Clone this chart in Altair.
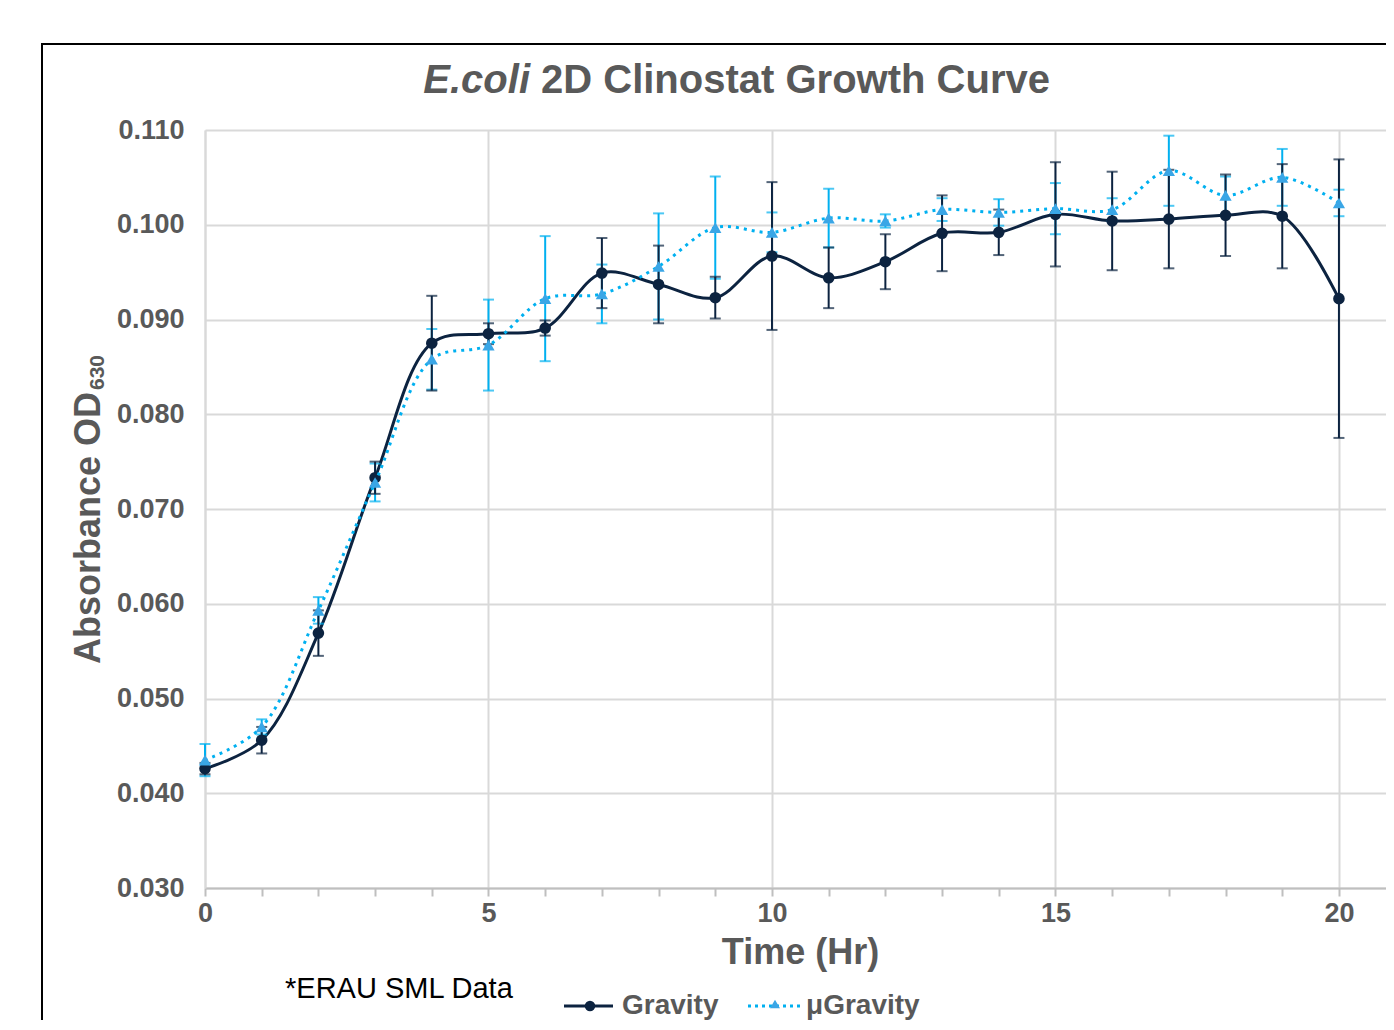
import altair as alt
import pandas as pd

hours = list(range(21))
gravity = [0.0426, 0.0456, 0.0569, 0.0733, 0.0875, 0.0885, 0.0891, 0.0949, 0.0937, 0.0923,
           0.0967, 0.0944, 0.0961, 0.0991, 0.0992, 0.1011, 0.1004, 0.1006, 0.1010, 0.1009, 0.0922]
gravity_err = [0.0006, 0.0014, 0.0024, 0.0017, 0.0050, 0.0011, 0.0008, 0.0037, 0.0041, 0.0022,
               0.0078, 0.0032, 0.0029, 0.0040, 0.0024, 0.0055, 0.0052, 0.0052, 0.0043, 0.0055, 0.0147]
micro = [0.0435, 0.0470, 0.0593, 0.0728, 0.0858, 0.0873, 0.0922, 0.0927, 0.0956, 0.0997,
         0.0992, 0.1007, 0.1004, 0.1016, 0.1013, 0.1017, 0.1016, 0.1057, 0.1031, 0.1050, 0.1023]
micro_err = [0.0017, 0.0008, 0.0014, 0.0020, 0.0032, 0.0048, 0.0066, 0.0031, 0.0056, 0.0054,
             0.0021, 0.0031, 0.0007, 0.0012, 0.0014, 0.0027, 0.0012, 0.0037, 0.0020, 0.0030, 0.0014]
x_ticks = list(range(21))
y_ticks = [0.030, 0.040, 0.050, 0.060, 0.070, 0.080, 0.090, 0.100, 0.110]

NAVY = "#0c2340"
BLUE = "#00b0f0"
TRI = "#3aa6e6"
GRAY = "#595959"
FONT = "Liberation Sans"

rows = []
for t, v, e in zip(hours, gravity, gravity_err):
    rows.append({"t": t, "v": v, "lo": v - e, "hi": v + e, "s": "Gravity"})
for t, v, e in zip(hours, micro, micro_err):
    rows.append({"t": t, "v": v, "lo": v - e, "hi": v + e, "s": "uGravity"})
df = pd.DataFrame(rows)
one = pd.DataFrame({"a": [0]})

xscale = alt.Scale(domain=[0, 20.83], nice=False, zero=False)
yscale = alt.Scale(domain=[0.030, 0.110], nice=False, zero=False)

X = alt.X("t:Q", scale=xscale, axis=alt.Axis(
    values=x_ticks, format="d",
    labelExpr="datum.value % 5 === 0 ? datum.label : ''",
    gridOpacity={"condition": {"test": "datum.value % 5 === 0", "value": 1}, "value": 0},
    title="Time (Hr)", titleFontSize=36, titleFontWeight="bold", titleColor=GRAY,
    titleFont=FONT, titlePadding=9, titleX=595,
    labelFontSize=27, labelFontWeight="bold", labelColor=GRAY, labelFont=FONT,
    labelPadding=4, tickSize=8, tickColor="#bfbfbf", tickWidth=2,
    domainColor="#bfbfbf", domainWidth=2, gridColor="#d9d9d9", gridWidth=2,
    labelFlush=False, labelOverlap=False,
))
Y = alt.Y("v:Q", scale=yscale, axis=alt.Axis(
    values=y_ticks, format=".3f", title=None,
    labelFontSize=27, labelFontWeight="bold", labelColor=GRAY, labelFont=FONT,
    labelPadding=21, ticks=False, domainColor="#d9d9d9", domainWidth=2,
    gridColor="#d9d9d9", gridWidth=2,
))

base = alt.Chart(df)
g = base.transform_filter("datum.s === 'Gravity'")
u = base.transform_filter("datum.s === 'uGravity'")

def errbars(src, color):
    bar = src.mark_rule(color=color, strokeWidth=2).encode(x="t:Q", y="lo:Q", y2="hi:Q")
    cap_lo = src.mark_tick(color=color, orient="horizontal", size=11, thickness=2).encode(x="t:Q", y="lo:Q")
    cap_hi = src.mark_tick(color=color, orient="horizontal", size=11, thickness=2).encode(x="t:Q", y="hi:Q")
    return bar + cap_lo + cap_hi

g_line = g.mark_line(color=NAVY, strokeWidth=3, interpolate="catmull-rom").encode(x=X, y=Y)
g_pts = g.mark_point(shape="circle", filled=True, size=135, color=NAVY, opacity=1).encode(x="t:Q", y="v:Q")
u_line = u.mark_line(color=BLUE, strokeWidth=3, strokeDash=[3, 5], interpolate="catmull-rom").encode(x="t:Q", y="v:Q")
u_pts = u.mark_point(shape="triangle-up", filled=True, size=150, color=TRI, opacity=1).encode(x="t:Q", y="v:Q")

ann = alt.Chart(one)
border = ann.mark_rect(filled=False, stroke="black", strokeWidth=2, fill=None).encode(
    x=alt.value(-163), x2=alt.value(1250), y=alt.value(-86), y2=alt.value(960))
title1 = ann.mark_text(text="E.coli", font=FONT, fontSize=40, fontWeight="bold", fontStyle="italic",
                       color=GRAY, align="right", baseline="alphabetic").encode(x=alt.value(325), y=alt.value(-37))
title2 = ann.mark_text(text="2D Clinostat Growth Curve", font=FONT, fontSize=40, fontWeight="bold",
                       color=GRAY, align="left", baseline="alphabetic").encode(x=alt.value(336), y=alt.value(-37))
ylab1 = ann.mark_text(text="Absorbance OD", font=FONT, fontSize=36, fontWeight="bold", color=GRAY,
                      angle=270, align="center", baseline="alphabetic").encode(x=alt.value(-105), y=alt.value(398))
ylab2 = ann.mark_text(text="630", font=FONT, fontSize=21, fontWeight="bold", color=GRAY,
                      angle=270, align="left", baseline="alphabetic").encode(x=alt.value(-101), y=alt.value(260))
note = ann.mark_text(text="*ERAU SML Data", font=FONT, fontSize=29, color="black",
                     align="left", baseline="alphabetic").encode(x=alt.value(80), y=alt.value(868))
LY = 876
leg_g_line = ann.mark_rule(color=NAVY, strokeWidth=3).encode(x=alt.value(359), x2=alt.value(408), y=alt.value(LY))
leg_g_pt = ann.mark_point(shape="circle", filled=True, size=110, color=NAVY, opacity=1).encode(x=alt.value(385), y=alt.value(LY))
leg_g_txt = ann.mark_text(text="Gravity", font=FONT, fontSize=28, fontWeight="bold", color=GRAY,
                          align="left", baseline="alphabetic").encode(x=alt.value(417), y=alt.value(LY + 8))
leg_u_line = ann.mark_rule(color=BLUE, strokeWidth=3, strokeDash=[3, 4]).encode(x=alt.value(543), x2=alt.value(596), y=alt.value(LY))
leg_u_pt = ann.mark_point(shape="triangle-up", filled=True, size=100, color=TRI, opacity=1).encode(x=alt.value(570), y=alt.value(LY - 2))
leg_u_txt = ann.mark_text(text="μGravity", font=FONT, fontSize=28, fontWeight="bold", color=GRAY,
                          align="left", baseline="alphabetic").encode(x=alt.value(601), y=alt.value(LY + 8))

chart = alt.layer(
    g_line, errbars(u, BLUE), errbars(g, NAVY), g_pts, u_line, u_pts,
    border, title1, title2, ylab1, ylab2, note,
    leg_g_line, leg_g_pt, leg_g_txt, leg_u_line, leg_u_pt, leg_u_txt,
).properties(
    width=1181, height=758,
    padding={"left": 197, "top": 122, "right": 0, "bottom": 132},
    autosize=alt.AutoSizeParams(type="none"),
    background="white",
).configure_view(strokeWidth=0)

chart.save("out.html", embed_options={"renderer": "svg", "actions": False})
